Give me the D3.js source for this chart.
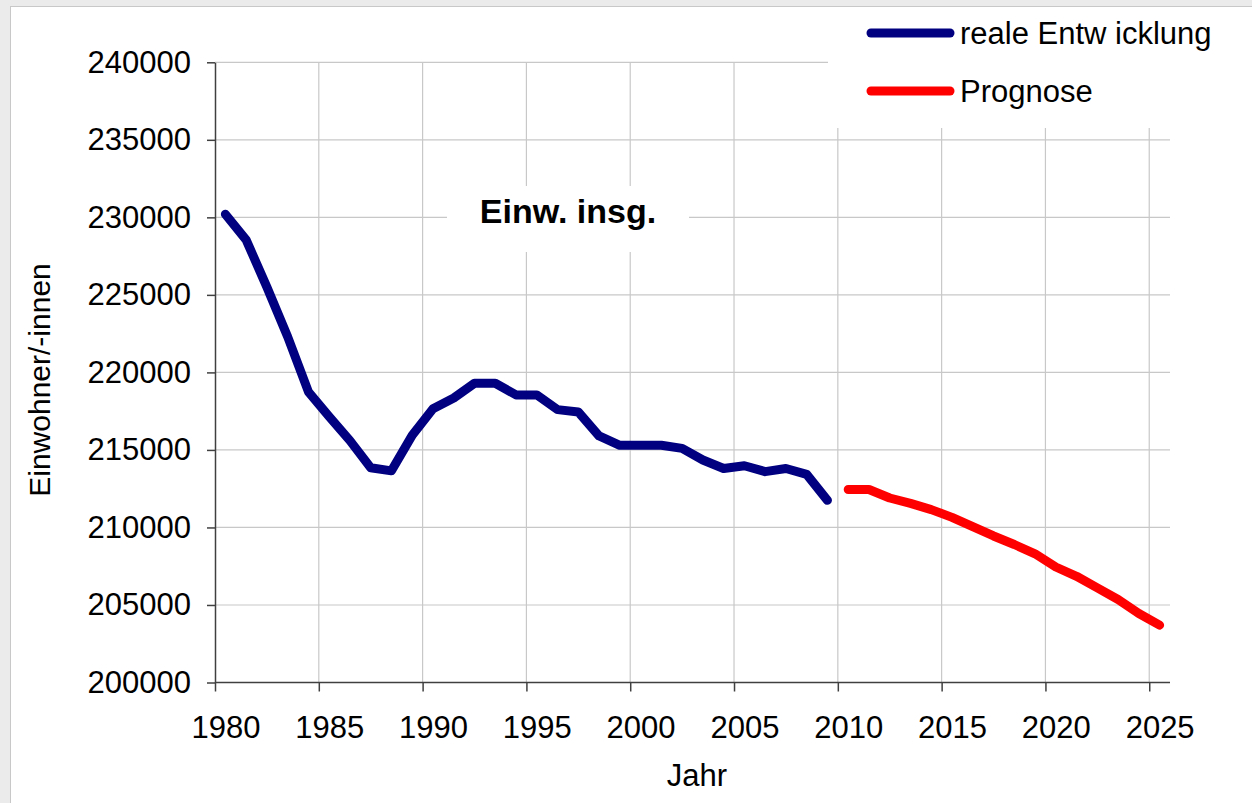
<!DOCTYPE html>
<html>
<head>
<meta charset="utf-8">
<script src="https://cdn.jsdelivr.net/npm/d3@7"></script>
<style>
	html, body { margin: 0; padding: 0; background: #ebebeb; }
	svg { display: block; font-family: "Liberation Sans", Arial, sans-serif; }
</style>
</head>
<body>
<svg id="chart" width="1252" height="803"></svg>
<script>
// Daten: Einwohnerentwicklung (real) und Prognose
var jahreReal = d3.range(1980, 2010);
var werteReal = [230200, 228550, 225500, 222300, 218750, 217150, 215600, 213850, 213650, 215950,
	217650, 218350, 219300, 219300, 218550, 218550, 217600, 217450, 215900, 215300,
	215300, 215300, 215100, 214350, 213800, 213980, 213600, 213800, 213420, 211750];
var jahrePrognose = d3.range(2010, 2026);
var wertePrognose = [212450, 212450, 211900, 211550, 211150, 210650, 210050, 209450, 208900, 208300,
	207450, 206850, 206100, 205350, 204450, 203700];
var yTicks = [200000, 205000, 210000, 215000, 220000, 225000, 230000, 235000, 240000];
var xTicks = [1980, 1985, 1990, 1995, 2000, 2005, 2010, 2015, 2020, 2025];
var legende = [{name: 'reale Entw icklung', farbe: '#000080'}, {name: 'Prognose', farbe: '#ff0000'}];

var svg = d3.select('#chart');
var plot = {l: 215, r: 1170, t: 62.3, b: 682.5};

// Hintergrund-Panel
svg.append('rect').attr('x', 10.5).attr('y', 6.5).attr('width', 1260).attr('height', 820)
	.attr('fill', '#fff').attr('stroke', '#c8c8c8').attr('stroke-width', 1);

var x = d3.scaleLinear().domain([1980, 2026]).range([plot.l, plot.r]);
var y = d3.scaleLinear().domain([200000, 240000]).range([plot.b, plot.t]);
var halb = (x(1981) - x(1980)) / 2;

// Gitterlinien
var grid = svg.append('g').attr('stroke', '#c8c8c8').attr('stroke-width', 1.2);
grid.selectAll('.h').data(yTicks.slice(1)).enter().append('line')
	.attr('x1', plot.l).attr('x2', plot.r)
	.attr('y1', function (d) { return y(d); }).attr('y2', function (d) { return y(d); });
grid.selectAll('.v').data(xTicks.slice(1)).enter().append('line')
	.attr('x1', function (d) { return x(d); }).attr('x2', function (d) { return x(d); })
	.attr('y1', plot.t).attr('y2', plot.b);

// Weiße Kästen über dem Gitter (Titel + Legende)
svg.append('rect').attr('x', 447).attr('y', 186).attr('width', 242).attr('height', 66).attr('fill', '#fff');
svg.append('rect').attr('x', 828).attr('y', 7).attr('width', 424).attr('height', 121).attr('fill', '#fff');

// Achsen
var yAxis = svg.append('g').attr('transform', 'translate(' + plot.l + ',0)')
	.call(d3.axisLeft(y).tickValues(yTicks).tickSize(8).tickSizeOuter(0).tickPadding(16).tickFormat(d3.format('d')));
var xAxis = svg.append('g').attr('transform', 'translate(0,' + plot.b + ')')
	.call(d3.axisBottom(x).tickValues(xTicks).tickSize(9).tickSizeOuter(0).tickPadding(24).tickFormat(d3.format('d')));
xAxis.selectAll('.tick text').attr('x', halb);
xAxis.select('.domain').attr('d', 'M' + plot.l + ',0H' + plot.r);
[xAxis, yAxis].forEach(function (ax) {
	ax.selectAll('.domain, .tick line').attr('stroke', '#404040').attr('stroke-width', 1.5);
	ax.selectAll('.tick text').attr('fill', '#000').style('font-size', '31px')
		.style('font-family', '"Liberation Sans", Arial, sans-serif');
});

// Linien
var linie = d3.line()
	.x(function (d) { return x(d[0]) + halb; })
	.y(function (d) { return y(d[1]); });
svg.append('path').datum(d3.zip(jahreReal, werteReal))
	.attr('d', linie).attr('fill', 'none').attr('stroke', legende[0].farbe)
	.attr('stroke-width', 9).attr('stroke-linejoin', 'round').attr('stroke-linecap', 'round');
svg.append('path').datum(d3.zip(jahrePrognose, wertePrognose))
	.attr('d', linie).attr('fill', 'none').attr('stroke', legende[1].farbe)
	.attr('stroke-width', 9).attr('stroke-linejoin', 'round').attr('stroke-linecap', 'round');

// Titel und Achsenbeschriftungen
svg.append('text').attr('x', 568).attr('y', 223).attr('text-anchor', 'middle')
	.style('font-size', '34px').style('font-weight', 'bold').text('Einw. insg.');
svg.append('text').attr('x', 697).attr('y', 786).attr('text-anchor', 'middle')
	.style('font-size', '31px').text('Jahr');
svg.append('text').attr('transform', 'translate(50,380) rotate(-90)').attr('text-anchor', 'middle')
	.style('font-size', '30px').text('Einwohner/-innen');

// Legende
var leg = svg.selectAll('.leg').data(legende).enter().append('g')
	.attr('transform', function (d, i) { return 'translate(0,' + (33 + i * 58) + ')'; });
leg.append('line').attr('x1', 871).attr('x2', 950).attr('y1', 0).attr('y2', 0)
	.attr('stroke', function (d) { return d.farbe; }).attr('stroke-width', 9).attr('stroke-linecap', 'round');
leg.append('text').attr('x', 960).attr('y', 11).style('font-size', '31px')
	.text(function (d) { return d.name; });
</script>
</body>
</html>
